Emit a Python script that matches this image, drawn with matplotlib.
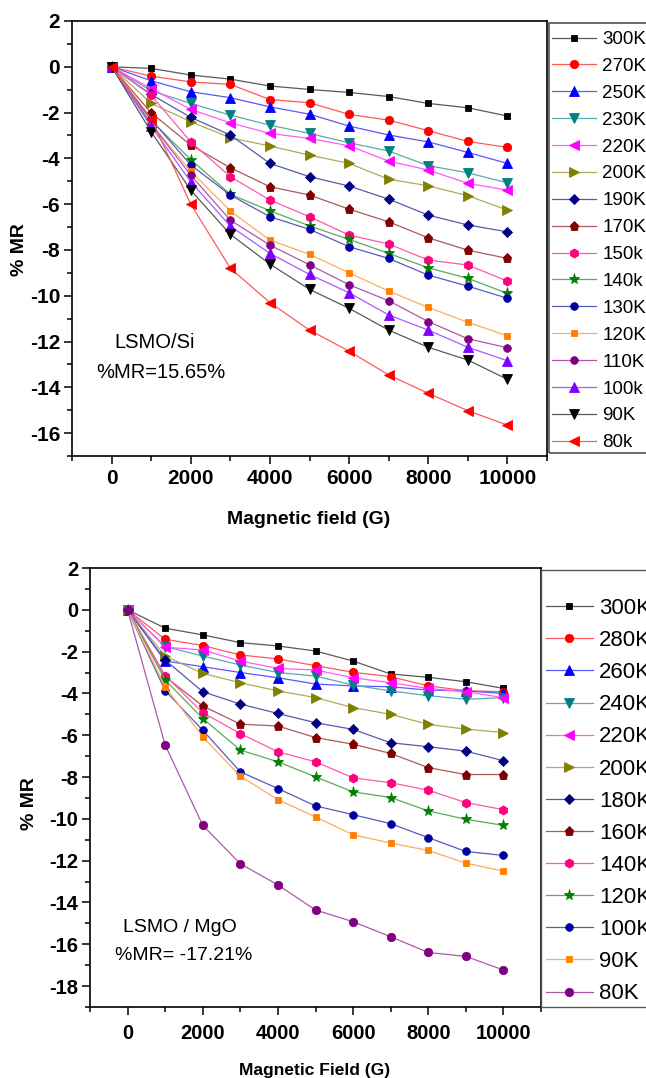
import matplotlib
matplotlib.use("Agg")
import matplotlib.pyplot as plt
from matplotlib.patches import Rectangle
from matplotlib.ticker import MultipleLocator
import matplotlib.colors as mcolors
import numpy as np

plt.rcParams['font.family'] = ['Liberation Sans', 'DejaVu Sans']
plt.rcParams['axes.unicode_minus'] = False

field = [0, 1000, 2000, 3000, 4000, 5000, 6000, 7000, 8000, 9000, 10000]

# ---- LSMO/Si (top) ----
top_labels = ['300K', '270K', '250K', '230K', '220K', '200K', '190K', '170K',
              '150k', '140k', '130K', '120K', '110K', '100k', '90K', '80k']
T300 = [0, -0.07, -0.36, -0.54, -0.84, -0.99, -1.12, -1.30, -1.60, -1.79, -2.15]
T270 = [0, -0.41, -0.66, -0.77, -1.43, -1.57, -2.08, -2.33, -2.79, -3.26, -3.52]
T250 = [0, -0.61, -1.09, -1.35, -1.75, -2.07, -2.59, -2.98, -3.28, -3.74, -4.22]
T230 = [0, -1.05, -1.60, -2.11, -2.55, -2.91, -3.32, -3.68, -4.32, -4.63, -5.07]
T220 = [0, -0.95, -1.86, -2.45, -2.91, -3.13, -3.45, -4.12, -4.51, -5.09, -5.39]
T200 = [0, -1.60, -2.40, -3.10, -3.46, -3.86, -4.22, -4.91, -5.20, -5.63, -6.26]
T190 = [0, -1.21, -2.21, -2.98, -4.22, -4.80, -5.21, -5.78, -6.48, -6.91, -7.21]
T170 = [0, -2.01, -3.42, -4.41, -5.24, -5.60, -6.22, -6.77, -7.47, -8.01, -8.37]
T150 = [0, -1.24, -3.28, -4.80, -5.82, -6.55, -7.35, -7.74, -8.44, -8.66, -9.36]
T140 = [0, -2.35, -4.05, -5.57, -6.29, -6.95, -7.54, -8.15, -8.78, -9.24, -9.90]
T130 = [0, -2.30, -4.29, -5.60, -6.55, -7.10, -7.86, -8.37, -9.10, -9.58, -10.11]
T120 = [0, -2.50, -4.56, -6.30, -7.57, -8.19, -9.00, -9.80, -10.51, -11.16, -11.75]
T110 = [0, -2.50, -4.73, -6.70, -7.79, -8.65, -9.52, -10.22, -11.13, -11.88, -12.27]
T100 = [0, -2.60, -5.02, -6.96, -8.15, -9.07, -9.87, -10.84, -11.50, -12.25, -12.84]
T90 = [0, -2.84, -5.39, -7.32, -8.62, -9.72, -10.55, -11.50, -12.25, -12.81, -13.65]
T80 = [0, -2.26, -6.00, -8.80, -10.30, -11.50, -12.42, -13.46, -14.26, -15.02, -15.65]
top_series = [T300, T270, T250, T230, T220, T200, T190, T170,
              T150, T140, T130, T120, T110, T100, T90, T80]

# ---- LSMO/MgO (bottom) ----
bot_labels = ['300K', '280K', '260K', '240K', '220K', '200K', '180K', '160K',
              '140K', '120K', '100K', '90K', '80K']
B300 = [0, -0.88, -1.20, -1.57, -1.73, -1.97, -2.45, -3.07, -3.23, -3.44, -3.76]
B280 = [0, -1.41, -1.71, -2.16, -2.35, -2.67, -2.99, -3.20, -3.64, -3.87, -3.92]
B260 = [0, -2.45, -2.72, -3.00, -3.25, -3.55, -3.64, -3.68, -3.84, -3.88, -4.00]
B240 = [0, -1.76, -2.21, -2.64, -3.00, -3.17, -3.60, -3.88, -4.11, -4.28, -4.20]
B220 = [0, -1.79, -1.92, -2.45, -2.80, -2.88, -3.25, -3.49, -3.76, -3.92, -4.20]
B200 = [0, -2.21, -3.04, -3.49, -3.88, -4.20, -4.68, -5.00, -5.48, -5.71, -5.87]
B180 = [0, -2.40, -3.92, -4.51, -4.96, -5.40, -5.72, -6.36, -6.55, -6.76, -7.22]
B160 = [0, -3.20, -4.60, -5.47, -5.56, -6.11, -6.43, -6.87, -7.55, -7.88, -7.88]
B140 = [0, -3.15, -4.92, -5.92, -6.79, -7.27, -8.04, -8.27, -8.63, -9.22, -9.56]
B120 = [0, -3.36, -5.20, -6.71, -7.27, -7.99, -8.71, -8.98, -9.62, -10.02, -10.31]
B100 = [0, -3.87, -5.76, -7.75, -8.55, -9.38, -9.80, -10.23, -10.90, -11.56, -11.75]
B90 = [0, -3.68, -6.08, -7.96, -9.08, -9.91, -10.76, -11.16, -11.51, -12.12, -12.50]
B80 = [0, -6.47, -10.31, -12.15, -13.16, -14.36, -14.92, -15.64, -16.39, -16.58, -17.23]
bot_series = [B300, B280, B260, B240, B220, B200, B180, B160,
              B140, B120, B100, B90, B80]

x_ticks = [0, 2000, 4000, 6000, 8000, 10000]
top_yticks = [2, 0, -2, -4, -6, -8, -10, -12, -14, -16]
bot_yticks = [2, 0, -2, -4, -6, -8, -10, -12, -14, -16, -18]

# styles
top_colors = ['#000000', '#FF0000', '#0000FF', '#008080', '#FF00FF', '#808000',
              '#000080', '#800000', '#FF0080', '#008000', '#0000A0', '#FF8000',
              '#800080', '#8000FF', '#000000', '#FF0000']
top_markers = ['s', 'o', '^', 'v', '<', '>', 'D', 'p', 'h', '*', 'o', 's',
               'o', '^', 'v', '<']
top_ms = [4.5, 6, 6.5, 6.5, 6.5, 6.5, 5.5, 6.5, 6.5, 8, 5.5, 4.5, 5.5, 6.5, 6.5, 7]

bot_colors = ['#000000', '#FF0000', '#0000FF', '#008080', '#FF00FF', '#808000',
              '#000080', '#800000', '#FF0080', '#008000', '#0000A0', '#FF8000',
              '#800080']
bot_markers = ['s', 'o', '^', 'v', '<', '>', 'D', 'p', 'h', '*', 'o', 's', 'o']
bot_ms = [5, 6, 6.5, 6.5, 6.5, 6.5, 5.5, 6.5, 6.5, 8, 5.5, 5, 6]


def lighten(c, f=0.35):
    r, g, b = mcolors.to_rgb(c)
    return (r + (1 - r) * f, g + (1 - g) * f, b + (1 - b) * f)


W, H = 646, 1078
fig = plt.figure(figsize=(W / 100, H / 100), dpi=100)


def fx(px):
    return px / W


def fy(py):
    return 1 - py / H


def make_axes(l, t, r, b):
    return fig.add_axes([fx(l), fy(b), fx(r) - fx(l), fy(t) - fy(b)])


def style_axes(ax, ylim, yticks, tick_fs, xpad, ypad):
    ax.set_xlim(-1000, 11000)
    ax.set_ylim(*ylim)
    ax.set_xticks(x_ticks)
    ax.set_yticks(yticks)
    ax.xaxis.set_minor_locator(MultipleLocator(1000))
    ax.yaxis.set_minor_locator(MultipleLocator(1))
    ax.tick_params(which='both', direction='out', top=False, right=False, width=1.1)
    ax.tick_params(which='major', length=5.5)
    ax.tick_params(which='minor', length=3.5)
    ax.tick_params(axis='x', pad=xpad)
    ax.tick_params(axis='y', pad=ypad)
    for s in ax.spines.values():
        s.set_linewidth(1.2)
    for lab in ax.get_xticklabels() + ax.get_yticklabels():
        lab.set_fontweight('bold')
        lab.set_fontsize(tick_fs)


# ---- top panel ----
ax1 = make_axes(72, 21, 547, 456)
handles = []
for ys, lab, c, m, ms in zip(top_series, top_labels, top_colors, top_markers, top_ms):
    h, = ax1.plot(field, ys, color=lighten(c), lw=0.9, marker=m, ms=ms,
                  markerfacecolor=c, markeredgecolor=c, markeredgewidth=0.6, label=lab)
    handles.append(h)
style_axes(ax1, (-17, 2), top_yticks, 15, 4.0, 3.0)

fig.patches.append(Rectangle((fx(549), fy(453)), fx(660) - fx(549), fy(23) - fy(453),
                             transform=fig.transFigure, fill=False,
                             edgecolor='#444444', lw=1.1, figure=fig))
leg1 = fig.legend(handles=handles, loc='upper left',
                  bbox_to_anchor=(fx(552), fy(31)), bbox_transform=fig.transFigure,
                  frameon=False, borderpad=0, borderaxespad=0,
                  prop={'size': 13.5}, labelspacing=0.52,
                  handlelength=2.35, handletextpad=0.33)

fig.text(fx(155), fy(343), 'LSMO/Si', fontsize=14.5, ha='center', va='center')
fig.text(fx(161), fy(372), '%MR=15.65%', fontsize=14.5, ha='center', va='center')
fig.text(fx(20), fy(250), '% MR', fontsize=14, fontweight='bold', rotation=90,
         ha='center', va='center')
fig.text(fx(309), fy(520), 'Magnetic field (G)', fontsize=14, fontweight='bold',
         ha='center', va='center')

# ---- bottom panel ----
ax2 = make_axes(90, 568, 541, 1007)
handles2 = []
for ys, lab, c, m, ms in zip(bot_series, bot_labels, bot_colors, bot_markers, bot_ms):
    h, = ax2.plot(field, ys, color=lighten(c), lw=0.9, marker=m, ms=ms,
                  markerfacecolor=c, markeredgecolor=c, markeredgewidth=0.6, label=lab)
    handles2.append(h)
style_axes(ax2, (-19, 2), bot_yticks, 14.5, 6.5, 3.0)

fig.patches.append(Rectangle((fx(541), fy(1007)), fx(660) - fx(541), fy(570) - fy(1007),
                             transform=fig.transFigure, fill=False,
                             edgecolor='#555555', lw=1.0, figure=fig))
leg2 = fig.legend(handles=handles2, loc='upper left',
                  bbox_to_anchor=(fx(546), fy(598)), bbox_transform=fig.transFigure,
                  frameon=False, borderpad=0, borderaxespad=0,
                  prop={'size': 16}, labelspacing=0.5,
                  handlelength=2.1, handletextpad=0.3)

fig.text(fx(180), fy(927), 'LSMO / MgO', fontsize=14, ha='center', va='center')
fig.text(fx(184), fy(955), '%MR= -17.21%', fontsize=14, ha='center', va='center')
fig.text(fx(30), fy(804), '% MR', fontsize=14, fontweight='bold', rotation=90,
         ha='center', va='center')
fig.text(fx(315), fy(1070), 'Magnetic Field (G)', fontsize=12.5, fontweight='bold',
         ha='center', va='center')

fig.savefig('out.png', dpi=100)
